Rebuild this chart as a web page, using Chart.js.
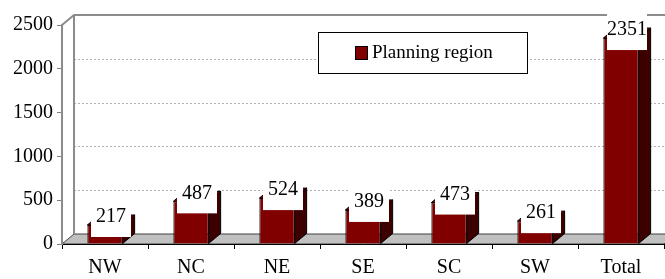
<!DOCTYPE html>
<html>
<head>
<meta charset="utf-8">
<script src="https://cdn.jsdelivr.net/npm/chart.js@4/dist/chart.umd.min.js"></script>
<style>
  body { margin: 0; background: #fff; }
  #wrap { width: 665px; height: 279px; }
</style>
</head>
<body>
<div id="wrap"><canvas id="regions" width="665" height="279"></canvas></div>
<script>
// values
var categories = ['NW', 'NC', 'NE', 'SE', 'SC', 'SW', 'Total'];
var values = [217, 487, 524, 389, 473, 261, 2351];
var seriesName = 'Planning region';
var yMin = 0, yMax = 2500, yStep = 500;

var FONT = '"Liberation Serif", "Times New Roman", serif';
var DX = 12, DY = 10; // depth offset of the 3d look

var depth3d = {
  id: 'depth3d',
  beforeDraw: function(chart) {
    var c = chart.ctx, a = chart.chartArea, ys = chart.scales.y;
    c.save();
    // floor
    c.beginPath();
    c.moveTo(a.left, a.bottom);
    c.lineTo(a.left + DX, a.bottom - DY);
    c.lineTo(a.right + DX, a.bottom - DY);
    c.lineTo(a.right, a.bottom);
    c.closePath();
    c.fillStyle = '#c0c0c0';
    c.fill();
    c.strokeStyle = '#404040';
    c.lineWidth = 1;
    c.stroke();
    // back wall grid lines
    c.setLineDash([2, 2]);
    c.strokeStyle = '#b0b0b0';
    for (var v = yMin + yStep; v < yMax; v += yStep) {
      var gy = Math.round(ys.getPixelForValue(v) - DY) + 0.5;
      c.beginPath();
      c.moveTo(a.left + DX, gy);
      c.lineTo(a.right + DX, gy);
      c.stroke();
    }
    c.setLineDash([]);
    // wall edges
    var ty = ys.getPixelForValue(yMax);
    c.strokeStyle = '#8c8c8c';
    c.lineWidth = 2;
    c.beginPath();
    c.moveTo(a.left, ty);
    c.lineTo(a.left + DX, ty - DY);
    c.lineTo(a.right + DX, ty - DY);
    c.moveTo(a.left + DX, ty - DY);
    c.lineTo(a.left + DX, a.bottom - DY);
    c.stroke();
    c.restore();
  },
  afterDatasetsDraw: function(chart) {
    var c = chart.ctx;
    var meta = chart.getDatasetMeta(0);
    c.save();
    meta.data.forEach(function(bar) {
      var l = bar.x - bar.width / 2, r = bar.x + bar.width / 2;
      // side face
      c.beginPath();
      c.moveTo(r, bar.y);
      c.lineTo(r + DX, bar.y - DY);
      c.lineTo(r + DX, bar.base - DY);
      c.lineTo(r, bar.base);
      c.closePath();
      c.fillStyle = '#3c0000';
      c.fill();
      c.strokeStyle = '#000';
      c.lineWidth = 1;
      c.stroke();
      // top face
      c.beginPath();
      c.moveTo(l, bar.y);
      c.lineTo(l + DX, bar.y - DY);
      c.lineTo(r + DX, bar.y - DY);
      c.lineTo(r, bar.y);
      c.closePath();
      c.fillStyle = '#990000';
      c.fill();
      c.stroke();
    });
    // value labels on white boxes
    c.font = '20px ' + FONT;
    c.textAlign = 'center';
    c.textBaseline = 'middle';
    meta.data.forEach(function(bar, i) {
      var cx = bar.x + DX / 2, cy = bar.y - 9;
      c.fillStyle = '#fff';
      c.fillRect(cx - 20, cy - 20, 40, 41);
      c.fillStyle = '#000';
      c.fillText(String(values[i]), cx, cy + 1);
    });
    // legend box
    c.fillStyle = '#fff';
    c.fillRect(318, 32, 209, 41);
    c.strokeStyle = '#000';
    c.strokeRect(318.5, 32.5, 209, 41);
    c.fillStyle = '#800000';
    c.fillRect(355, 46, 12, 13);
    c.strokeRect(355.5, 46.5, 12, 13);
    c.fillStyle = '#000';
    c.font = '19px ' + FONT;
    c.textAlign = 'left';
    c.fillText(seriesName, 372, 53);
    c.restore();
  }
};

var config = {
  type: 'bar',
  data: {
    labels: categories,
    datasets: [{
      label: seriesName,
      data: values,
      backgroundColor: '#800000',
      borderColor: '#000',
      borderWidth: 1,
      categoryPercentage: 1,
      barPercentage: 0.41
    }]
  },
  options: {
    responsive: false,
    animation: false,
    devicePixelRatio: 1,
    layout: { padding: { top: 25, right: 1, left: 0, bottom: 0 } },
    plugins: {
      legend: { display: false },
      tooltip: { enabled: false }
    },
    scales: {
      x: {
        grid: { offset: true, drawOnChartArea: false, tickLength: 5, color: '#000' },
        border: { color: '#000', width: 1 },
        ticks: { color: '#000', font: { family: FONT, size: 20 }, padding: 7 },
        afterFit: function(s) { s.height = 35; }
      },
      y: {
        min: yMin,
        max: yMax,
        grid: { drawOnChartArea: false, tickLength: 5, color: '#808080' },
        border: { color: '#8c8c8c', width: 2 },
        ticks: {
          stepSize: yStep,
          color: '#000',
          font: { family: FONT, size: 20 },
          padding: 4,
          callback: function(v) { return String(v); }
        },
        afterFit: function(s) { s.width = 62; }
      }
    }
  },
  plugins: [depth3d]
};

window.onload = function() {
  var ctx = document.getElementById('regions').getContext('2d');
  window.regionChart = new Chart(ctx, config);
};
</script>
</body>
</html>
